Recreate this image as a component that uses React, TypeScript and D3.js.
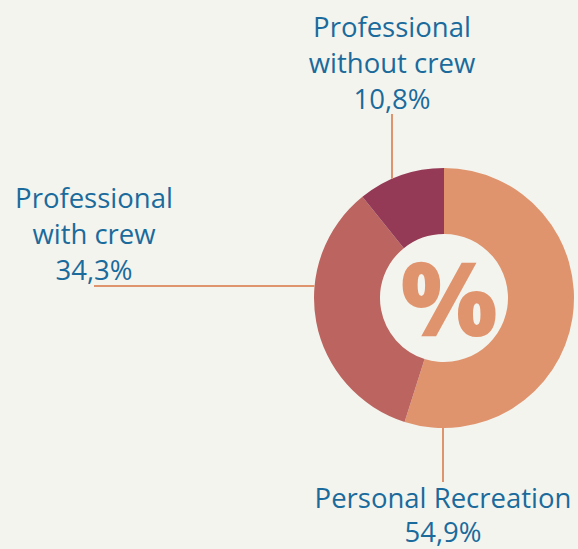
import React from "react";
import * as d3 from "d3";

const categories = ["Personal Recreation", "Professional with crew", "Professional without crew"];
const values = [54.9, 34.3, 10.8];
const labelLines = [["Personal Recreation"], ["Professional", "with crew"], ["Professional", "without crew"]];
const valueLabels = ["54,9%", "34,3%", "10,8%"];
const colors = ["#E0946D", "#BC6560", "#953A56"];

const W = 578, H = 549;
const cx = 444, cy = 298, R = 130, r = 64;
const TEXT = "#1A6B9C";
const LINE = "#E0946D";
const FONT = "'Open Sans', sans-serif";
const FS = 27.5;
const LH = 36;

export default function App() {
  const pie = d3.pie<number>().sort(null).value((d) => d)(values);
  const arc = d3.arc<d3.PieArcDatum<number>>().innerRadius(r).outerRadius(R);

  const layouts = [
    { tx: 443, ty: 508, dir: "v", at: 443, from: 482 },
    { tx: 94, ty: 208, dir: "h", at: 286, from: 94 },
    { tx: 392, ty: 37, dir: "v", at: 392, from: 114 },
  ];

  return (
    <svg width={W} height={H} style={{ position: "absolute", left: 0, top: 0, background: "#F4F4EF" }}>
      <rect width={W} height={H} fill="#F4F4EF" />
      <g transform={`translate(${cx},${cy})`}>
        {pie.map((p, i) => (
          <path key={categories[i]} d={arc(p) || ""} fill={colors[i]} />
        ))}
      </g>
      <text x={cx + 5} y={cy + 38} textAnchor="middle" fontFamily={FONT} fontWeight={800} fontSize={102} fill="#E0946D">%</text>
      {layouts.map((L, i) => {
        let x1, y1, x2, y2;
        if (L.dir === "v") {
          const dx = L.at - cx;
          const dy = Math.sqrt(R * R - dx * dx);
          x1 = L.at; x2 = L.at; y1 = L.from;
          y2 = L.from > cy ? cy + dy : cy - dy;
        } else {
          const dy = L.at - cy;
          const dx = Math.sqrt(R * R - dy * dy);
          y1 = L.at; y2 = L.at; x1 = L.from;
          x2 = L.from < cx ? cx - dx : cx + dx;
        }
        const lines = [...labelLines[i], valueLabels[i]];
        return (
          <g key={i}>
            <line x1={x1} y1={y1} x2={x2} y2={y2} stroke={LINE} strokeWidth={2} />
            <text textAnchor="middle" fontFamily={FONT} fontSize={FS} fill={TEXT}>
              {lines.map((t, j) => (
                <tspan key={j} x={L.tx} y={L.ty + j * (i === 0 ? 34 : LH)}>{t}</tspan>
              ))}
            </text>
          </g>
        );
      })}
    </svg>
  );
}
